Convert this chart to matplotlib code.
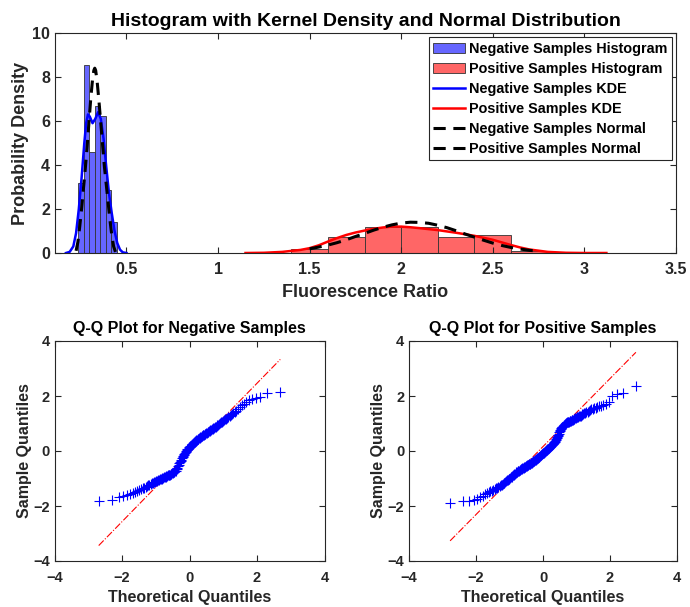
from statistics import NormalDist

import matplotlib
matplotlib.use("Agg")
import matplotlib.pyplot as plt
import numpy as np

plt.rcParams["font.family"] = ["Liberation Sans", "DejaVu Sans"]
plt.rcParams["font.weight"] = "bold"

TEXT = "#262626"

# histogram bars (pdf-normalised)
neg_edges = [0.236, 0.266, 0.297, 0.327, 0.357, 0.388, 0.418, 0.448]
neg_heights = [3.2, 8.55, 4.6, 6.7, 6.25, 2.85, 1.4]
pos_edges = [1.4, 1.6, 1.8, 2.0, 2.2, 2.4, 2.6, 2.8]
pos_heights = [0.18, 0.75, 1.2, 1.16, 0.75, 0.80, 0.08]

# kernel density curves
neg_kde_x = [0.17, 0.19, 0.21, 0.225, 0.24, 0.255, 0.27, 0.28, 0.29, 0.30, 0.315,
             0.33, 0.345, 0.36, 0.375, 0.39, 0.405, 0.42, 0.435, 0.45, 0.465, 0.48, 0.50]
neg_kde_y = [0.0, 0.05, 0.3, 0.9, 2.0, 3.4, 5.0, 5.9, 6.3, 6.2, 5.9,
             6.1, 6.4, 6.1, 5.2, 3.9, 2.7, 1.8, 1.0, 0.45, 0.15, 0.03, 0.0]
pos_kde_x = [1.15, 1.25, 1.35, 1.45, 1.5, 1.55, 1.6, 1.65, 1.7, 1.75, 1.8, 1.85, 1.9,
             1.95, 2.0, 2.05, 2.1, 2.2, 2.3, 2.4, 2.5, 2.55, 2.6, 2.65, 2.7, 2.8,
             2.9, 3.0, 3.12]
pos_kde_y = [0.0, 0.01, 0.05, 0.14, 0.22, 0.35, 0.52, 0.68, 0.82, 0.93, 1.02, 1.1, 1.16,
             1.2, 1.2, 1.17, 1.13, 1.04, 0.92, 0.78, 0.6, 0.48, 0.36, 0.25, 0.16, 0.05,
             0.01, 0.0, 0.0]

# fitted normal curves
neg_norm_x = [0.225, 0.235, 0.245, 0.255, 0.265, 0.275, 0.285, 0.295, 0.305, 0.315,
              0.322, 0.327, 0.332, 0.34, 0.35, 0.36, 0.37, 0.38, 0.39, 0.40, 0.41,
              0.42, 0.43, 0.44]
neg_norm_y = [0.1, 0.5, 1.2, 2.0, 2.9, 3.8, 4.8, 5.9, 7.0, 7.9,
              8.3, 8.4, 8.3, 7.8, 6.9, 5.9, 4.9, 3.9, 3.1, 2.3, 1.5,
              0.8, 0.3, 0.05]
pos_norm_x = [1.5, 1.55, 1.6, 1.65, 1.7, 1.75, 1.8, 1.85, 1.9, 1.95, 2.0, 2.05, 2.1,
              2.15, 2.2, 2.25, 2.3, 2.35, 2.4, 2.45, 2.5, 2.55, 2.6, 2.65, 2.7, 2.73]
pos_norm_y = [0.19, 0.27, 0.36, 0.47, 0.60, 0.75, 0.89, 1.04, 1.17, 1.28, 1.36, 1.40, 1.39,
              1.35, 1.26, 1.15, 1.01, 0.86, 0.72, 0.58, 0.45, 0.34, 0.25, 0.18, 0.12, 0.10]

# sorted standardised sample values for the Q-Q plots
neg_sample_q = [
    -1.82, -1.79, -1.69, -1.65, -1.61, -1.57, -1.53, -1.49, -1.45, -1.41,
    -1.38, -1.35, -1.33, -1.30, -1.27, -1.25, -1.23, -1.20, -1.18, -1.16,
    -1.14, -1.12, -1.10, -1.08, -1.06, -1.05, -1.03, -1.01, -1.00, -0.98,
    -0.97, -0.95, -0.94, -0.93, -0.91, -0.90, -0.89, -0.88, -0.87, -0.855,
    -0.84, -0.83, -0.81, -0.79, -0.78, -0.76, -0.73, -0.71, -0.67, -0.64,
    -0.60, -0.54, -0.50, -0.44, -0.40, -0.35, -0.31, -0.27, -0.22, -0.18,
    -0.14, -0.10, -0.07, -0.03, 0.00, 0.03, 0.06, 0.08, 0.11, 0.13,
    0.15, 0.17, 0.20, 0.22, 0.25, 0.27, 0.29, 0.31, 0.33, 0.35,
    0.37, 0.39, 0.41, 0.42, 0.44, 0.46, 0.48, 0.50, 0.51, 0.53,
    0.55, 0.57, 0.58, 0.60, 0.62, 0.63, 0.65, 0.67, 0.68, 0.70,
    0.72, 0.74, 0.76, 0.77, 0.79, 0.81, 0.83, 0.85, 0.87, 0.89,
    0.91, 0.93, 0.96, 0.99, 1.02, 1.05, 1.07, 1.10, 1.13, 1.15,
    1.18, 1.21, 1.25, 1.29, 1.32, 1.35, 1.38, 1.42, 1.46, 1.52,
    1.59, 1.67, 1.72, 1.79, 1.86, 1.90, 1.94, 1.96, 2.12, 2.13,
]
pos_sample_q = [
    -1.88, -1.83, -1.81, -1.77, -1.73, -1.67, -1.62, -1.58, -1.54, -1.50,
    -1.47, -1.44, -1.41, -1.38, -1.36, -1.33, -1.30, -1.28, -1.25, -1.23,
    -1.21, -1.18, -1.15, -1.12, -1.10, -1.07, -1.05, -1.02, -1.00, -0.98,
    -0.96, -0.93, -0.91, -0.89, -0.86, -0.84, -0.82, -0.80, -0.78, -0.76,
    -0.74, -0.73, -0.71, -0.70, -0.68, -0.67, -0.65, -0.64, -0.62, -0.61,
    -0.60, -0.59, -0.58, -0.57, -0.55, -0.54, -0.53, -0.52, -0.51, -0.50,
    -0.49, -0.48, -0.47, -0.46, -0.45, -0.43, -0.42, -0.41, -0.40, -0.38,
    -0.37, -0.36, -0.34, -0.33, -0.32, -0.30, -0.29, -0.27, -0.26, -0.24,
    -0.23, -0.21, -0.20, -0.18, -0.17, -0.15, -0.14, -0.12, -0.10, -0.09,
    -0.07, -0.06, -0.04, -0.03, -0.01, 0.00, 0.02, 0.03, 0.05, 0.06,
    0.08, 0.09, 0.10, 0.12, 0.14, 0.16, 0.17, 0.19, 0.21, 0.23,
    0.25, 0.27, 0.29, 0.31, 0.33, 0.36, 0.40, 0.44, 0.48, 0.52,
    0.56, 0.60, 0.63, 0.68, 0.72, 0.76, 0.80, 0.84, 0.86, 0.88,
    0.90, 0.93, 0.95, 0.97, 0.99, 1.01, 1.03, 1.04, 1.05, 1.06,
    1.07, 1.08, 1.09, 1.10, 1.12, 1.13, 1.14, 1.15, 1.17, 1.19,
    1.20, 1.22, 1.23, 1.25, 1.26, 1.28, 1.29, 1.31, 1.33, 1.35,
    1.37, 1.39, 1.41, 1.43, 1.46, 1.48, 1.51, 1.54, 1.56, 1.58,
    1.60, 1.63, 1.65, 1.67, 1.70, 1.79, 2.00, 2.08, 2.11, 2.35,
]


def style_axis(ax, size, xpad):
    for side in ax.spines.values():
        side.set_color(TEXT)
        side.set_linewidth(0.8)
    ax.tick_params(direction="in", top=True, right=True, length=4, width=0.8,
                   colors=TEXT, labelsize=size)
    ax.tick_params(axis="x", pad=xpad)
    for lbl in ax.get_xticklabels() + ax.get_yticklabels():
        lbl.set_fontweight("bold")


def qq_panel(ax, sample, title):
    sample = np.asarray(sample)
    n = len(sample)
    nd = NormalDist()
    theo = np.array([nd.inv_cdf((i - 0.5) / n) for i in range(1, n + 1)])
    # reference line through the first and third quartiles
    q1, q3 = np.percentile(sample, [25, 75])
    t1, t3 = nd.inv_cdf(0.25), nd.inv_cdf(0.75)
    slope = (q3 - q1) / (t3 - t1)
    xs = np.array([theo[0], theo[-1]])
    ax.plot(xs, q1 + slope * (xs - t1), color="red", linestyle="-.", linewidth=0.8)
    ax.plot(theo, sample, "+", color="blue", markersize=7, markeredgewidth=0.8)
    ax.set_xlim(-4, 4)
    ax.set_ylim(-4, 4)
    ax.set_xticks([-4, -2, 0, 2, 4])
    ax.set_yticks([-4, -2, 0, 2, 4])
    ax.set_title(title, fontsize=11.5, fontweight="bold", color="black", pad=6)
    ax.set_xlabel("Theoretical Quantiles", fontsize=11.5, fontweight="bold", color=TEXT,
                  labelpad=4)
    ax.set_ylabel("Sample Quantiles", fontsize=11.5, fontweight="bold", color=TEXT, labelpad=1)
    style_axis(ax, 10.5, 7)


fig = plt.figure(figsize=(6.9, 6.07), dpi=100)
ax = fig.add_axes([55 / 690, (607 - 253) / 607, 621 / 690, 220 / 607])

h_neg = ax.bar(neg_edges[:-1], neg_heights, width=np.diff(neg_edges), align="edge",
               color="#6666ff", edgecolor="#333333", linewidth=0.6,
               label="Negative Samples Histogram")
h_pos = ax.bar(pos_edges[:-1], pos_heights, width=np.diff(pos_edges), align="edge",
               color="#ff6666", edgecolor="#333333", linewidth=0.6,
               label="Positive Samples Histogram")
l_nk, = ax.plot(neg_kde_x, neg_kde_y, color="blue", linewidth=1.8, label="Negative Samples KDE")
l_pk, = ax.plot(pos_kde_x, pos_kde_y, color="red", linewidth=1.8, label="Positive Samples KDE")
l_nn, = ax.plot(neg_norm_x, neg_norm_y, color="black", linewidth=2.2, linestyle=(0, (4, 2.5)),
                label="Negative Samples Normal")
l_pn, = ax.plot(pos_norm_x, pos_norm_y, color="black", linewidth=2.2, linestyle=(0, (4, 2.5)),
                label="Positive Samples Normal")

ax.set_xlim(0.11, 3.5)
ax.set_ylim(0, 10)
ax.set_xticks([0.5, 1, 1.5, 2, 2.5, 3, 3.5])
ax.set_xticklabels(["0.5", "1", "1.5", "2", "2.5", "3", "3.5"])
ax.set_yticks([0, 2, 4, 6, 8, 10])
ax.set_title("Histogram with Kernel Density and Normal Distribution",
             fontsize=14, fontweight="bold", color="black", pad=5)
ax.set_xlabel("Fluorescence Ratio", fontsize=13, fontweight="bold", color=TEXT, labelpad=5)
ax.set_ylabel("Probability Density", fontsize=13, fontweight="bold", color=TEXT, labelpad=2)
style_axis(ax, 11.5, 6.5)

handles = [h_neg, h_pos, l_nk, l_pk, l_nn, l_pn]
leg = ax.legend(handles, [h.get_label() for h in handles], loc="upper right",
                prop={"weight": "bold", "size": 10.4},
                fancybox=False, framealpha=1, edgecolor=TEXT, borderpad=0.3,
                labelspacing=0.42, handlelength=2.2, handletextpad=0.3,
                borderaxespad=0.3)
leg.get_frame().set_linewidth(0.8)

ax_n = fig.add_axes([54.5 / 690, (607 - 561) / 607, 270 / 690, 220 / 607])
qq_panel(ax_n, neg_sample_q, "Q-Q Plot for Negative Samples")
ax_p = fig.add_axes([409 / 690, (607 - 561) / 607, 268 / 690, 220 / 607])
qq_panel(ax_p, pos_sample_q, "Q-Q Plot for Positive Samples")

fig.savefig("out.png", dpi=100)
